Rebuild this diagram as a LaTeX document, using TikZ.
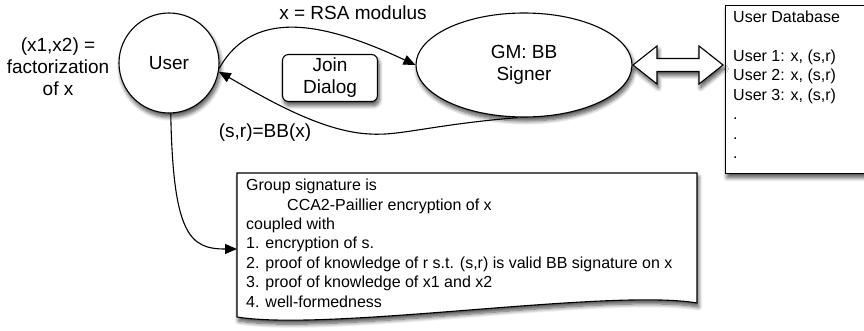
\documentclass[tikz,border=0pt]{standalone}
\usepackage{fontspec}
\setmainfont{Liberation Sans}
\usetikzlibrary{arrows.meta,shapes.geometric,shadows.blur}
\begin{document}
\begin{tikzpicture}[x=1pt,y=-1pt,
  bigtxt/.style={font=\fontsize{19}{22}\selectfont},
  smalltxt/.style={font=\fontsize{16}{19.4}\selectfont},
  shad/.style={blur shadow={shadow xshift=1.5pt, shadow yshift=-4pt, shadow blur radius=4pt, shadow blur steps=8, shadow opacity=70}},
  figshape/.style={draw=black, line width=1.1pt, fill=white, shad},
  conn/.style={draw=black, line width=1.1pt, -{Triangle[length=12pt,width=10pt]}},
]
\useasboundingbox (0,0) rectangle (864,331);

% nodes
\node[figshape, circle, minimum size=100pt, inner sep=0pt, bigtxt] (user) at (169,63) {User};
\node[figshape, ellipse, minimum width=216pt, minimum height=104pt, inner sep=0pt, align=center, bigtxt] (gm) at (524,65) {GM: BB\\Signer};
\node[figshape, rounded corners=6pt, minimum width=95pt, minimum height=47pt, inner sep=0pt, align=center, bigtxt] (join) at (330,78) {Join\\Dialog};
\node[figshape, anchor=north west, minimum width=150pt, minimum height=168pt] (db) at (725,5) {};
\node[smalltxt, anchor=north west, align=left, inner sep=0pt] (dbtext) at (733,11)
  {User Database\\[19.4pt]User 1: x, (s,r)\\User 2: x, (s,r)\\User 3: x, (s,r)\\.\\.\\.};

\node[bigtxt, align=center] (fact) at (58,67) {(x1,x2) =\\factorization\\of x};
\node[bigtxt] (rsa) at (353,13) {x = RSA modulus};
\node[bigtxt] (bb) at (265,133) {(s,r)=BB(x)};

% document shape
\draw[figshape] (237,173) -- (697,173) -- (697,303) .. controls (610,288) and (330,332) .. (237,317) -- cycle;
\node[smalltxt, anchor=north west, align=left, inner sep=0pt] (doctext) at (246,179)
  {Group signature is\\
   \hspace*{41pt}CCA2-Paillier encryption of x\\
   coupled with\\
   1. encryption of s.\\
   2. proof of knowledge of r s.t. (s,r) is valid BB signature on x\\
   3. proof of knowledge of x1 and x2\\
   4. well-formedness};
\coordinate (docin) at (237,249);

% double arrow
\draw[figshape, line join=miter] (633,65) -- (657,46) -- (657,58.5) -- (699,58.5) -- (699,46) -- (723,65)
  -- (699,84) -- (699,71.5) -- (657,71.5) -- (657,84) -- cycle;

% connectors
\draw[conn] (user.-6) .. controls (255,5) and (330,25) .. (gm.west);
\draw[conn] ([xshift=-6pt]gm.south) .. controls (430,125) and (400,136) .. (370,134)
  .. controls (320,132) and (260,95) .. (user.-10);
\draw[conn] (user.-88) .. controls (173,235) and (190,249) .. (docin);
\end{tikzpicture}
\end{document}
